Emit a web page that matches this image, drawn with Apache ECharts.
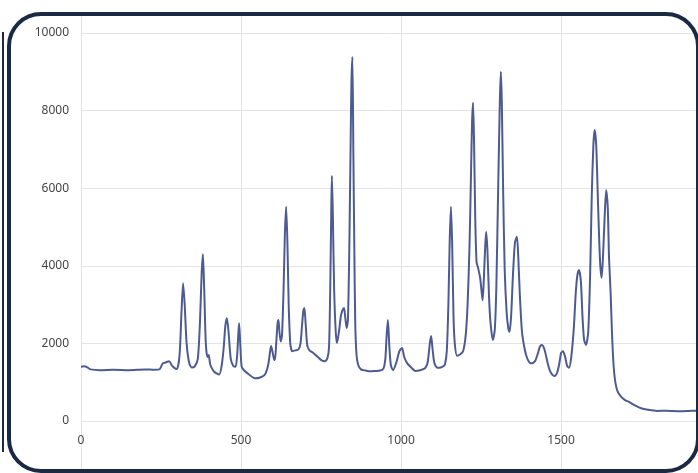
<!DOCTYPE html>
<html>
<head>
<meta charset="utf-8">
<script src="https://cdn.jsdelivr.net/npm/echarts@6/dist/echarts.min.js"></script>
<style>
html,body{margin:0;padding:0;background:#fff;}
#c{width:698px;height:473px;}
</style>
</head>
<body>
<div id="c"></div>
<script>
// Spectrum trace: x positions and intensities
const xs = [0,10,20,30,60,100,150,200,230,245,255,265,275,285,295,300,308,314,319,324,330,338,346,355,365,372,377,381,385,390,395,399,404,415,425,432,440,446,451,456,461,468,476,483,488,492,494,497,502,510,525,544,560,575,585,591,594,598,603,606,610,614,617,620,624,628,633,637,641,645,649,654,660,670,680,686,691,695,698,702,707,714,725,740,752,762,770,775,779,782,784,787,791,796,800,806,812,817,822,826,830,834,838,842,845,848,851,854,857,861,866,875,890,905,920,935,945,951,955,959,963,968,975,985,995,1003,1010,1020,1032,1044,1060,1075,1083,1090,1094,1098,1104,1112,1120,1130,1137,1143,1148,1152,1156,1160,1164,1168,1175,1185,1194,1202,1208,1214,1219,1222,1225,1228,1232,1236,1241,1247,1251,1255,1259,1263,1266,1270,1275,1280,1287,1293,1298,1304,1309,1312,1315,1319,1324,1330,1335,1339,1344,1350,1356,1362,1366,1371,1378,1387,1395,1405,1413,1420,1428,1434,1440,1448,1458,1465,1472,1480,1488,1495,1500,1506,1513,1519,1525,1532,1540,1546,1551,1556,1562,1567,1572,1578,1585,1591,1596,1601,1605,1610,1616,1622,1627,1632,1637,1641,1646,1650,1655,1660,1666,1675,1688,1700,1715,1731,1750,1772,1800,1830,1850,1875,1900,1919,1928];
const ys = [1400,1410,1380,1330,1310,1320,1310,1330,1320,1330,1480,1510,1540,1420,1350,1340,1700,2800,3550,3000,2000,1500,1380,1400,1600,2600,3800,4300,3400,2000,1650,1700,1450,1280,1220,1200,1450,1900,2450,2650,2300,1600,1420,1400,1700,2300,2520,2100,1400,1300,1200,1100,1120,1200,1450,1800,1930,1800,1600,1570,2000,2500,2600,2300,2050,2200,3400,4800,5520,4600,3000,2000,1800,1820,1850,2000,2500,2850,2910,2500,1950,1820,1760,1650,1560,1540,1620,1900,3500,5400,6320,5300,3400,2300,2010,2300,2700,2850,2910,2650,2400,2600,4200,6800,8700,9380,7000,4500,2500,1700,1450,1330,1300,1280,1290,1300,1350,1600,2200,2600,2000,1450,1310,1500,1800,1880,1650,1480,1380,1290,1310,1360,1500,2000,2190,1900,1500,1380,1370,1400,1450,1800,3000,4600,5520,4500,2700,2000,1680,1720,1800,2200,3000,4500,6500,7700,8200,7300,5200,4100,3940,3700,3400,3110,3700,4500,4880,4400,3200,2500,2090,2350,3500,6200,8300,9000,8200,6000,3900,2800,2400,2300,2700,3800,4600,4750,4300,3300,2300,1830,1600,1490,1500,1560,1750,1920,1960,1850,1500,1300,1200,1160,1250,1500,1750,1800,1650,1420,1370,1650,2400,3300,3750,3890,3600,2700,2100,1960,2300,3800,5800,7100,7500,7100,5500,4100,3690,4400,5400,5950,5500,4200,3300,2100,1250,800,620,540,480,400,330,290,260,265,255,250,260,265,280,270];
const yTicks = [0,2000,4000,6000,8000,10000];
const xTicks = [0,500,1000,1500];

const data = xs.map((x,i)=>[x,ys[i]]);
const chart = echarts.init(document.getElementById('c'));
const lab = {color:'#444', fontSize:12, fontFamily:'Noto Sans'};
chart.setOption({
  animation:false,
  backgroundColor:'#fff',
  grid:[
    {left:81, right:0, top:33, bottom:52},
    {left:81, right:0, top:14, bottom:0}
  ],
  xAxis:[
    {type:'value', gridIndex:0, min:0, max:1928, interval:500,
     axisLine:{show:false}, axisTick:{show:false}, splitLine:{show:false},
     axisLabel:Object.assign({margin:14, showMaxLabel:false,
       formatter:v=> xTicks.includes(v)? String(v):''}, lab)},
    {type:'value', gridIndex:1, min:0, max:1928, interval:500,
     axisLine:{show:false}, axisTick:{show:false}, axisLabel:{show:false},
     splitLine:{show:true, lineStyle:{color:'#e4e4e4', width:1}}}
  ],
  yAxis:[
    {type:'value', gridIndex:0, min:0, max:10000, interval:2000,
     axisLine:{show:false}, axisTick:{show:false},
     splitLine:{show:true, lineStyle:{color:'#e4e4e4', width:1}},
     axisLabel:Object.assign({margin:12, formatter:v=> yTicks.includes(v)? String(v):''}, lab)},
    {type:'value', gridIndex:1, min:0, max:1, show:false, splitLine:{show:false}}
  ],
  series:[{
    type:'line', xAxisIndex:0, yAxisIndex:0, data:data, showSymbol:false,
    smooth:0.25, lineStyle:{color:'#4d5b92', width:2}, z:5
  }],
  graphic:[
    {type:'rect', z:100, shape:{x:9, y:14, width:689, height:457, r:32},
     style:{fill:null, stroke:'#1b2a44', lineWidth:4}},
    {type:'line', z:100, shape:{x1:3, y1:32, x2:3, y2:452},
     style:{stroke:'#1b2a44', lineWidth:2}}
  ]
});
</script>
</body>
</html>
